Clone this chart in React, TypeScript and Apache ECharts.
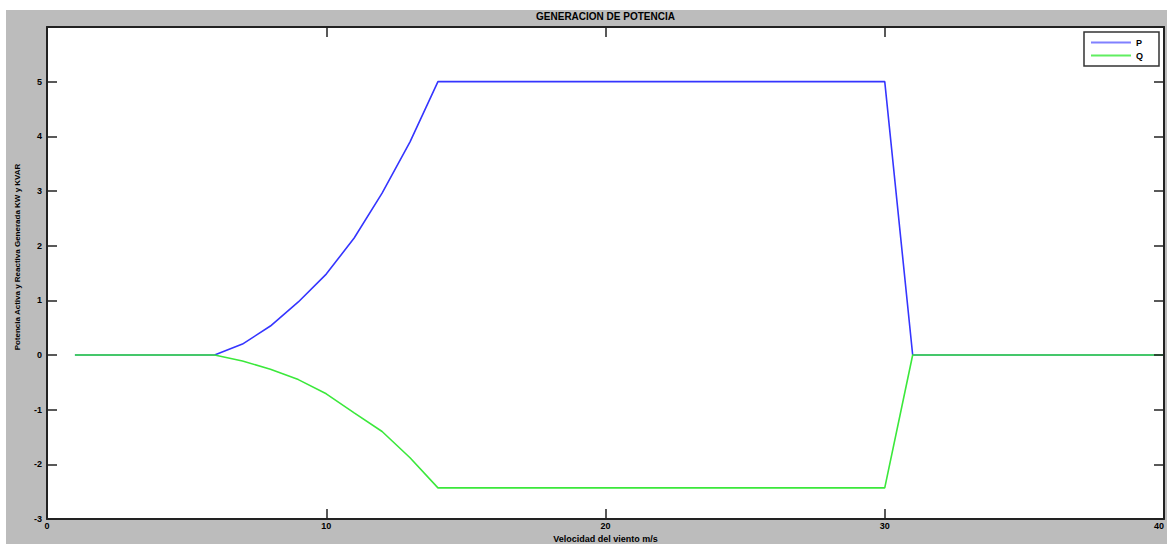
import React, { useEffect, useRef } from "react";
import * as echarts from "echarts";

const windSpeed = [1, 2, 3, 4, 5, 6, 7, 8, 9, 10, 11, 12, 13, 14, 15, 16, 17, 18, 19, 20, 21, 22, 23, 24, 25, 26, 27, 28, 29, 30, 31, 32, 33, 34, 35, 36, 37, 38, 39, 40];
const pValues = [0, 0, 0, 0, 0, 0, 0.2, 0.53, 0.97, 1.48, 2.14, 2.96, 3.9, 5, 5, 5, 5, 5, 5, 5, 5, 5, 5, 5, 5, 5, 5, 5, 5, 5, 0, 0, 0, 0, 0, 0, 0, 0, 0, 0];
const qValues = [0, 0, 0, 0, 0, 0, -0.11, -0.26, -0.45, -0.71, -1.06, -1.4, -1.88, -2.43, -2.43, -2.43, -2.43, -2.43, -2.43, -2.43, -2.43, -2.43, -2.43, -2.43, -2.43, -2.43, -2.43, -2.43, -2.43, -2.43, 0, 0, 0, 0, 0, 0, 0, 0, 0, 0];
const titleText = "GENERACION DE POTENCIA";
const xName = "Velocidad del viento m/s";
const yName = "Potencia Activa y Reactiva Generada KW y KVAR";

const FONT = "'Liberation Sans', Arial, sans-serif";

export default function App() {
  const ref = useRef<HTMLDivElement>(null);
  useEffect(() => {
    if (!ref.current) return;
    const chart = echarts.init(ref.current, null, { renderer: "svg" });
    const axisLine = { show: true, onZero: false, lineStyle: { color: "#222", width: 2 } };
    const tick = { show: true, inside: true, length: 10, lineStyle: { color: "#222", width: 1.5 } };
    const label = { fontFamily: FONT, fontWeight: "bold" as const, fontSize: 9, color: "#000" };
    chart.setOption({
      animation: false,
      backgroundColor: "#bcbcbc",
      title: {
        text: titleText,
        left: 41 + 1117 / 2,
        textAlign: "center",
        top: 1,
        padding: 0,
        textStyle: { fontFamily: FONT, fontWeight: "bold", fontSize: 10, color: "#000" },
      },
      legend: {
        right: 8,
        top: 22,
        orient: "vertical",
        icon: "rect",
        itemWidth: 40,
        itemHeight: 2,
        itemGap: 4,
        padding: [6, 16, 6, 7],
        backgroundColor: "#fff",
        borderColor: "#333",
        borderWidth: 1.5,
        borderRadius: 0,
        textStyle: { fontFamily: FONT, fontWeight: "bold", fontSize: 9, color: "#000" },
        data: ["P", "Q"],
        z: 10,
      },
      grid: {
        left: 41,
        right: 3,
        top: 17,
        bottom: 25,
        show: true,
        backgroundColor: "#fff",
        borderWidth: 0,
        containLabel: false,
        outerBoundsMode: "none",
        z: 0,
      },
      xAxis: [
        {
          type: "value",
          min: 0,
          max: 40,
          interval: 10,
          position: "bottom",
          z: 5,
          name: xName,
          nameLocation: "middle",
          nameGap: 14,
          nameTextStyle: { fontFamily: FONT, fontWeight: "bold", fontSize: 9, color: "#000" },
          axisLine,
          axisTick: tick,
          axisLabel: { ...label, margin: 2, alignMaxLabel: "right" },
          splitLine: { show: false },
        },
        {
          type: "value",
          min: 0,
          max: 40,
          interval: 10,
          position: "top",
          z: 5,
          axisLine,
          axisTick: tick,
          axisLabel: { show: false },
          splitLine: { show: false },
        },
      ],
      yAxis: [
        {
          type: "value",
          min: -3,
          max: 6,
          interval: 1,
          position: "left",
          z: 5,
          name: yName,
          nameLocation: "middle",
          nameGap: 26,
          nameTextStyle: { fontFamily: FONT, fontWeight: "bold", fontSize: 8, color: "#000", padding: [0, 0, 0, 32] },
          axisLine,
          axisTick: tick,
          axisLabel: {
            ...label,
            margin: 5,
            formatter: (v: number) => (v === 6 ? "" : String(v)),
          },
          splitLine: { show: false },
        },
        {
          type: "value",
          min: -3,
          max: 6,
          interval: 1,
          position: "right",
          z: 5,
          axisLine,
          axisTick: tick,
          axisLabel: { show: false },
          splitLine: { show: false },
        },
      ],
      series: [
        {
          name: "P",
          type: "line",
          symbol: "none",
          xAxisIndex: 0,
          yAxisIndex: 0,
          data: windSpeed.map((x, i) => [x, pValues[i]]),
          lineStyle: { color: "#3535ff", width: 1.6 },
          itemStyle: { color: "#8080ff" },
          z: 2,
        },
        {
          name: "Q",
          type: "line",
          symbol: "none",
          xAxisIndex: 0,
          yAxisIndex: 0,
          data: windSpeed.map((x, i) => [x, qValues[i]]),
          lineStyle: { color: "#3be83b", width: 1.6 },
          itemStyle: { color: "#60ee60" },
          z: 3,
        },
      ],
    });
    return () => chart.dispose();
  }, []);
  return (
    <div style={{ position: "fixed", left: 0, top: 0, width: 1167, height: 544, background: "#fff", overflow: "hidden" }}>
      <div ref={ref} style={{ position: "absolute", left: 6, top: 10, width: 1161, height: 534 }} />
    </div>
  );
}
